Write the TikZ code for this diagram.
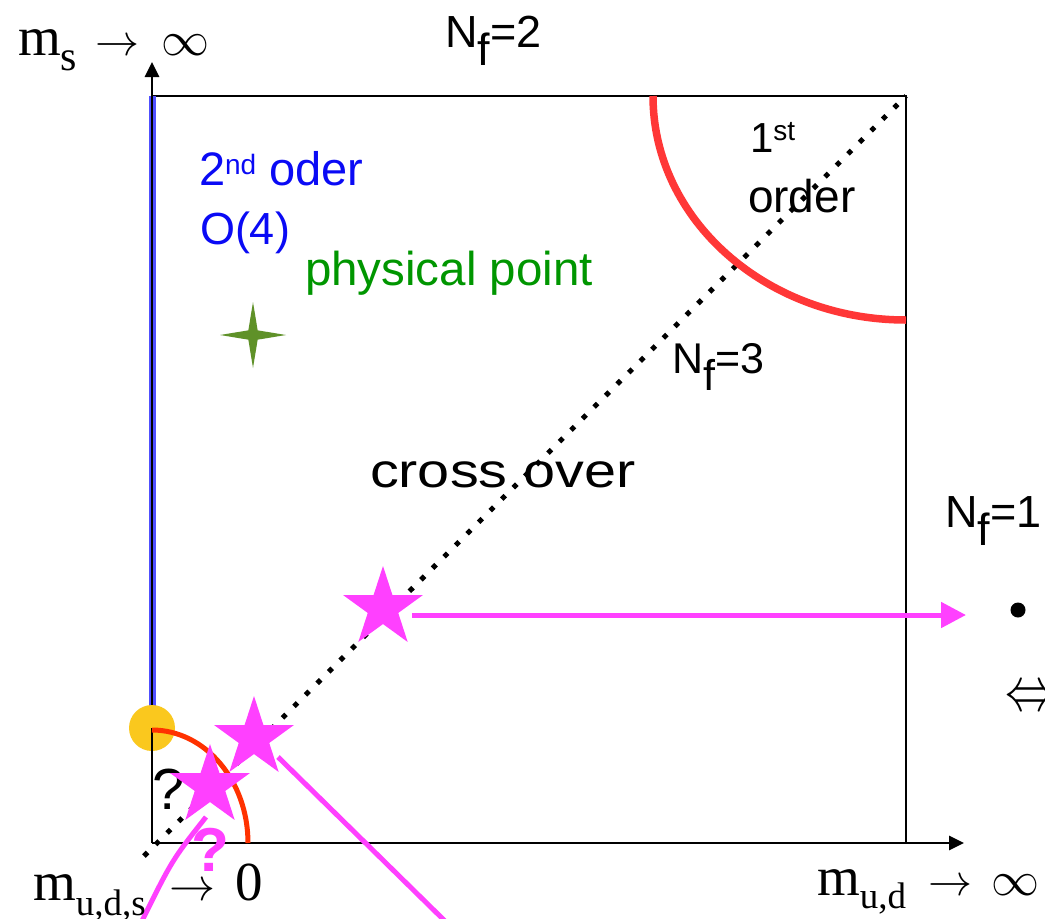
\RequirePackage{fix-cm}
\documentclass[tikz,border=0pt]{standalone}
\usepackage{fontspec}
\usepackage{graphicx}
\setmainfont{Liberation Sans}
\newfontfamily\serifF{Liberation Serif}
\usetikzlibrary{arrows.meta,shapes.geometric}
\definecolor{mag}{RGB}{255,64,255}
\definecolor{redA}{RGB}{255,55,55}
\definecolor{redB}{RGB}{255,50,0}
\definecolor{yel}{RGB}{250,200,30}
\definecolor{blueL}{RGB}{80,80,255}
\definecolor{blueT}{RGB}{10,10,245}
\definecolor{greenT}{RGB}{0,150,0}
\definecolor{greenS}{RGB}{95,145,40}
\newcommand{\fsz}[1]{\fontsize{#1}{#1}\selectfont}
\newcommand{\lowr}[2]{\raisebox{-#1}{#2}}
\newcommand{\marr}[1]{{\fsz{#1}$\rightarrow$}}
\newcommand{\minf}[1]{{\fsz{#1}$\infty$}}
\tikzset{
  txt/.style={inner sep=0pt, outer sep=0pt, anchor=base west},
  axis/.style={line width=2.8pt, -{Triangle[length=15pt,width=14pt]}},
  boxline/.style={line width=2.8pt},
  magstar/.style={star, star points=5, star point ratio=2.618, fill=mag, draw=none, inner sep=0pt, outer sep=0pt, minimum size=84pt},
  magline/.style={mag, line width=5pt},
}
\begin{document}
\begin{tikzpicture}[x=1pt,y=-1pt]
\clip (0,0) rectangle (1045,919);
\fill[white] (0,0) rectangle (1045,919);
% box
\draw[boxline] (152,96) -- (906,96) -- (906,843);
% blue line
\draw[blueL, line width=7pt] (152,96) -- (152,715);
% axes
\coordinate (O) at (152,843);
\coordinate (ytip) at (152,62);
\coordinate (xtip) at (964,843);
\draw[axis] (O) -- (ytip);
\draw[axis] (O) -- (xtip);
% dotted diagonal
\coordinate (d0) at (144,856);
\coordinate (d1) at (906,96);
\draw[line width=5pt, dash pattern=on 5pt off 11.3pt] (d0) -- (d1);
% red arcs
\draw[redA, line width=7.5pt] (653,96) arc[start angle=180, end angle=90, x radius=253, y radius=224];
\node[circle, fill=yel, inner sep=0pt, minimum size=46pt] (yc) at (152,728) {};
\draw[line width=2.8pt] (yc.center) -- (O);
\draw[redB, line width=5pt] (152,730) arc[start angle=270, end angle=360, x radius=96, y radius=113];
% question marks
\node[inner sep=0pt, font=\fsz{58}] (q1) at (169,789) {?};
% green star
\node[star, star points=4, star point ratio=5, fill=greenS, inner sep=0pt, minimum size=66pt] (pp) at (253,335) {};
% magenta stars
\node[magstar] (s1) at (383,608) {};
\node[magstar] (s2) at (254,738) {};
\node[magstar] (s3) at (210,786) {};
\node[inner sep=0pt, font=\fsz{62}\bfseries, text=mag] (q2) at (210,850) {?};
% magenta connectors
\coordinate (a1s) at (412,615);
\coordinate (a1e) at (966,615);
\draw[magline, -{Triangle[length=25pt,width=25pt]}] (a1s) -- (a1e);
\coordinate (l2s) at (278,757);
\coordinate (l2e) at (449,925);
\draw[magline] (l2s) -- (l2e);
\coordinate (l3s) at (206,817);
\coordinate (l3c) at (172,860);
\coordinate (l3e) at (140,925);
\draw[magline] (l3s) .. controls (l3c) .. (l3e);
% texts
\node[txt, font=\serifF\fsz{55}] (ms) at (18,55) {m\lowr{15pt}{\fsz{42}s}\hspace{18pt}\marr{44}\hspace{22pt}\minf{48}};
\node[txt, font=\fsz{45}] (nf2) at (445,47) {N\lowr{18pt}{f}=2};
\node[txt, font=\fsz{47}, text=blueT] (sec) at (199,185) {2\raisebox{11pt}{\fsz{28}nd} oder};
\node[txt, font=\fsz{45}, text=blueT] (o4) at (200,244) {O(4)};
\node[txt, font=\fsz{47.5}, text=greenT] (phys) at (305,285) {physical point};
\node[txt, font=\fsz{42}] (first) at (750,152) {1\raisebox{12pt}{\fsz{28}st}};
\node[txt, font=\fsz{46}] (order) at (748,212) {order};
\node[txt, font=\fsz{43}] (nf3) at (672,373) {N\lowr{17pt}{f}=3};
\node[txt, font=\fsz{48}] (cross) at (370,487) {\scalebox{1.2}[1]{cross over}};
\node[txt, font=\fsz{45}] (nf1) at (945,527) {N\lowr{18pt}{f}=1};
\node[circle, fill=black, inner sep=0pt, minimum size=15pt] (dot) at (1018,610) {};
\node[txt, font=\fsz{62}] (eqv) at (1005,710) {\scalebox{0.8}[1]{$\Leftrightarrow$}};
\node[txt, font=\serifF\fsz{55}] (mz) at (33,900) {m\lowr{15pt}{\fsz{37}u,d,s}\hspace{24pt}\marr{46}\hspace{20pt}0};
\node[txt, font=\serifF\fsz{55}] (mi) at (817,895) {m\lowr{13pt}{\fsz{37}u,d}\hspace{22pt}\marr{44}\hspace{19pt}\minf{48}};
\end{tikzpicture}
\end{document}
